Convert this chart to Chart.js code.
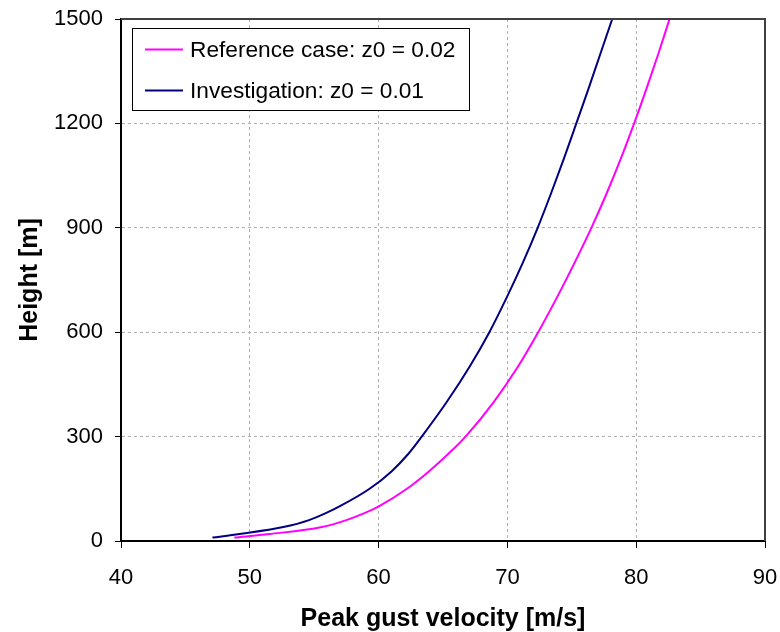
<!DOCTYPE html>
<html><head><meta charset="utf-8">
<script src="https://cdn.jsdelivr.net/npm/chart.js@4/dist/chart.umd.min.js"></script>
<style>html,body{margin:0;padding:0;background:#fff;}canvas{display:block;}</style>
</head><body>
<canvas id="c" width="780" height="632"></canvas>
<script>
const heights = [10,20,40,60,80,100,150,200,250,300,400,500,600,700,800,900,1000,1100,1200,1300,1400,1500];
const refVelocity = [48.8,51.5,55.6,57.5,58.9,60.05,62.2,63.9,65.4,66.75,68.95,70.8,72.39,73.85,75.22,76.52,77.72,78.82,79.84,80.8,81.72,82.59];
const invVelocity = [47.1,49.2,52.6,54.6,55.9,57.0,59.3,61.0,62.3,63.35,65.3,67.05,68.6,69.95,71.2,72.35,73.4,74.4,75.35,76.3,77.22,78.14];
const xTicks = [40,50,60,70,80,90];
const yTicks = [0,300,600,900,1200,1500];
const seriesLabels = ['Reference case: z0 = 0.02','Investigation: z0 = 0.01'];
const seriesColors = ['#FF00FF','#000080'];
const xTitle = 'Peak gust velocity [m/s]';
const yTitle = 'Height [m]';

const FONT = "'Liberation Sans', Arial, sans-serif";
const toPts = (xs) => xs.map((v,i)=>({x:v, y:heights[i]}));

const frameAndLegend = {
  id: 'frameAndLegend',
  afterDatasetsDraw(chart) {
    const {ctx, chartArea: a} = chart;
    ctx.save();
    ctx.strokeStyle = '#404040';
    ctx.lineWidth = 2;
    ctx.beginPath();
    ctx.moveTo(a.left, a.top); ctx.lineTo(a.right, a.top); ctx.lineTo(a.right, a.bottom);
    ctx.stroke();
    const bx = a.left + 11.5, by = a.top + 9.5, bw = 337, bh = 82;
    ctx.fillStyle = '#fff';
    ctx.fillRect(bx, by, bw, bh);
    ctx.strokeStyle = '#000';
    ctx.lineWidth = 1;
    ctx.strokeRect(bx, by, bw, bh);
    ctx.font = '22.7px ' + FONT;
    ctx.textBaseline = 'middle';
    ctx.fillStyle = '#000';
    chart.data.datasets.forEach((ds, i) => {
      const cy = a.top + 30.5 + i * 41;
      ctx.strokeStyle = ds.borderColor;
      ctx.lineWidth = 2;
      ctx.beginPath();
      ctx.moveTo(a.left + 24, cy); ctx.lineTo(a.left + 62, cy);
      ctx.stroke();
      ctx.fillText(ds.label, a.left + 69, cy + 1);
    });
    ctx.restore();
  }
};

const noPad = s => { s.paddingTop = 0; s.paddingBottom = 0; s.paddingLeft = 0; s.paddingRight = 0; };

new Chart(document.getElementById('c'), {
  type: 'scatter',
  data: {
    datasets: [
      {label: seriesLabels[0], data: toPts(refVelocity), borderColor: seriesColors[0], backgroundColor: seriesColors[0], showLine: true, pointRadius: 0, borderWidth: 2, cubicInterpolationMode: 'monotone'},
      {label: seriesLabels[1], data: toPts(invVelocity), borderColor: seriesColors[1], backgroundColor: seriesColors[1], showLine: true, pointRadius: 0, borderWidth: 2, cubicInterpolationMode: 'monotone'}
    ]
  },
  options: {
    responsive: false,
    animation: false,
    events: [],
    layout: {padding: {left: 15, right: 15, top: 19, bottom: 0}},
    plugins: {legend: {display: false}, tooltip: {enabled: false}},
    scales: {
      x: {
        type: 'linear', min: 40, max: 90,
        afterBuildTicks: s => { s.ticks = xTicks.map(v => ({value: v})); },
        afterFit: s => { s.height = 91; noPad(s); },
        ticks: {color: '#000', font: {family: FONT, size: 22}, padding: 17, callback: v => String(v)},
        grid: {color: c => (c.tick && (c.tick.value === 40 || c.tick.value === 90)) ? 'rgba(0,0,0,0)' : '#b0b0b0', tickColor: '#000', tickLength: 7, lineWidth: 1},
        border: {color: '#000', width: 2, dash: [3,3]},
        title: {display: true, text: xTitle, color: '#000', font: {family: FONT, size: 25, weight: 'bold', lineHeight: 1.0}, padding: {top: 4, bottom: 0}}
      },
      y: {
        type: 'linear', min: 0, max: 1500,
        afterBuildTicks: s => { s.ticks = yTicks.map(v => ({value: v})); },
        afterFit: s => { s.width = 106; noPad(s); },
        ticks: {color: '#000', font: {family: FONT, size: 22}, padding: 12, callback: v => String(v)},
        grid: {color: c => (c.tick && (c.tick.value === 0 || c.tick.value === 1500)) ? 'rgba(0,0,0,0)' : '#b0b0b0', tickColor: '#000', tickLength: 6, lineWidth: 1},
        border: {color: '#000', width: 2, dash: [3,3]},
        title: {display: true, text: yTitle, color: '#000', font: {family: FONT, size: 25, weight: 'bold'}, padding: {top: 0, bottom: 0}}
      }
    }
  },
  plugins: [frameAndLegend]
});
</script>
</body></html>
